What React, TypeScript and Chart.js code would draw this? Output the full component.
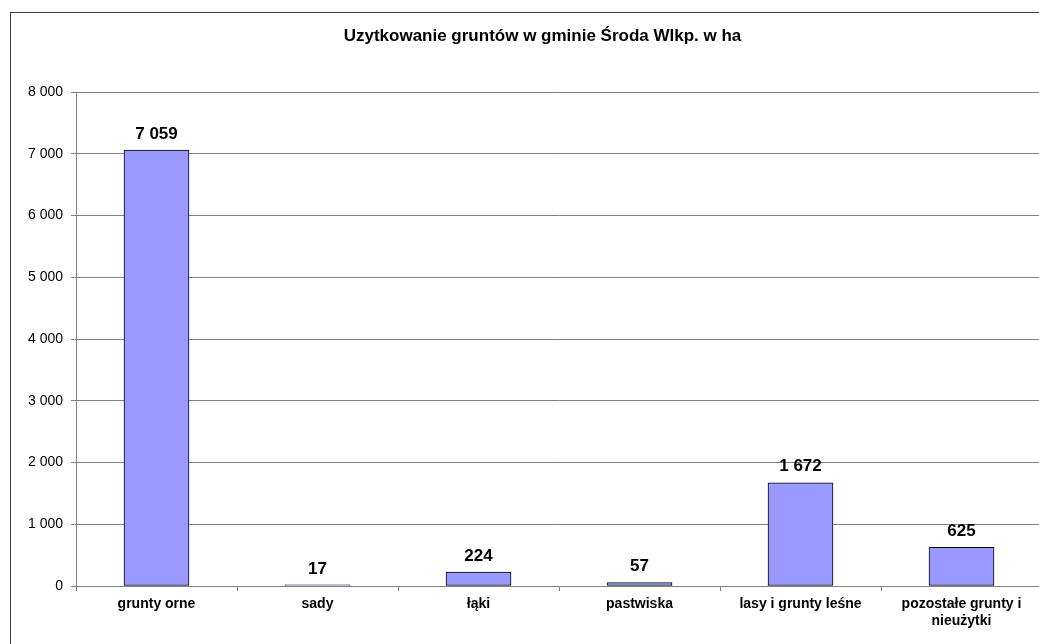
import React, { useEffect, useRef } from "react";
import { Chart, registerables } from "chart.js";

Chart.register(...registerables);

const TITLE = "Uzytkowanie gruntów w gminie Środa Wlkp. w ha";
const categories: (string | string[])[] = [
  "grunty orne",
  "sady",
  "łąki",
  "pastwiska",
  "lasy i grunty leśne",
  ["pozostałe grunty i", "nieużytki"],
];
const values: number[] = [7059, 17, 224, 57, 1672, 625];
const yTicks: number[] = [0, 1000, 2000, 3000, 4000, 5000, 6000, 7000, 8000];

const FONT = "'Liberation Sans', Arial, sans-serif";

const fmt = (v: number) => String(v).replace(/\B(?=(\d{3})+(?!\d))/g, " ");

const dataLabels = {
  id: "dataLabels",
  afterDatasetsDraw(chart: any) {
    const ctx = chart.ctx;
    const meta = chart.getDatasetMeta(0);
    ctx.save();
    ctx.font = `bold 17px ${FONT}`;
    ctx.fillStyle = "#000";
    ctx.textAlign = "center";
    ctx.textBaseline = "middle";
    meta.data.forEach((el: any, i: number) => {
      ctx.fillText(fmt(values[i]), el.x, el.y - 16);
    });
    ctx.restore();
  },
};

const titlePlugin = {
  id: "customTitle",
  afterDraw(chart: any) {
    const ctx = chart.ctx;
    ctx.save();
    ctx.font = `bold 17px ${FONT}`;
    ctx.fillStyle = "#000";
    ctx.textAlign = "center";
    ctx.textBaseline = "middle";
    ctx.fillText(TITLE, 531.5, 23);
    ctx.restore();
  },
};

export default function App() {
  const ref = useRef<HTMLCanvasElement>(null);

  useEffect(() => {
    if (!ref.current) return;
    const chart = new Chart(ref.current, {
      type: "bar",
      data: {
        labels: categories,
        datasets: [
          {
            data: values,
            backgroundColor: "#9999FF",
            borderColor: "#000000",
            borderWidth: 1,
            borderSkipped: false,
            barThickness: 65,
          },
        ],
      },
      options: {
        animation: false,
        responsive: false,
        devicePixelRatio: 1,
        layout: { padding: { top: 79, right: 32, bottom: 0, left: 0 } },
        plugins: {
          legend: { display: false },
          tooltip: { enabled: false },
          title: { display: false },
        },
        scales: {
          x: {
            offset: true,
            grid: {
              offset: true,
              drawOnChartArea: false,
              drawTicks: true,
              tickLength: 5,
              color: "#808080",
            },
            border: { display: true, color: "#808080", width: 1 },
            ticks: {
              color: "#000",
              font: { family: FONT, size: 14, weight: "bold", lineHeight: 1.2 },
              padding: 5,
              maxRotation: 0,
              minRotation: 0,
              autoSkip: false,
            },
            afterFit(scale: any) {
              scale.height = 85;
            },
          },
          y: {
            min: 0,
            max: 8000,
            afterBuildTicks(scale: any) {
              scale.ticks = yTicks.map((v) => ({ value: v }));
            },
            grid: {
              color: "#808080",
              drawTicks: true,
              tickLength: 5,
            },
            border: { display: true, color: "#808080", width: 1 },
            ticks: {
              color: "#000",
              font: { family: FONT, size: 14 },
              padding: 8,
              callback: (v: any) => fmt(Number(v)),
            },
            afterFit(scale: any) {
              scale.width = 65;
            },
          },
        },
      },
      plugins: [dataLabels, titlePlugin],
    });
    return () => chart.destroy();
  }, []);

  return (
    <div
      style={{
        position: "fixed",
        left: 0,
        top: 0,
        width: 1039,
        height: 644,
        overflow: "hidden",
        background: "#fff",
      }}
    >
      <div
        style={{
          position: "absolute",
          left: 10,
          top: 12,
          width: 1065,
          height: 660,
          border: "1px solid #404040",
          boxSizing: "border-box",
        }}
      >
        <canvas ref={ref} width={1063} height={658} style={{ display: "block" }} />
      </div>
    </div>
  );
}
